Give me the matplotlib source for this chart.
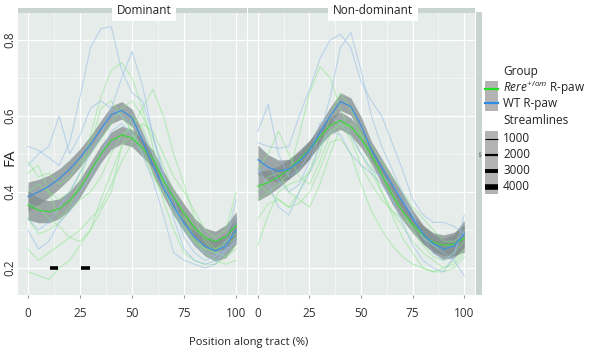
import matplotlib.pyplot as plt
from matplotlib.patches import Rectangle

plt.rcParams['font.family'] = ['Open Sans', 'DejaVu Sans']
plt.rcParams['mathtext.fontset'] = 'custom'
plt.rcParams['mathtext.rm'] = 'Open Sans'
plt.rcParams['mathtext.it'] = 'Open Sans:italic'

# position along tract (%)
pos = [0, 5, 10, 15, 20, 25, 30, 35, 40, 45, 50, 55, 60, 65, 70, 75, 80, 85, 90, 95, 100]

panel_titles = ['Dominant', 'Non-dominant']
group_labels = [r'$\mathit{Rere}^{+/om}$ R-paw', 'WT R-paw']
streamline_levels = ['1000', '2000', '3000', '4000']

# smoothed fits (FA)
dom_wt_fit = [0.388, 0.40, 0.415, 0.435, 0.46, 0.49, 0.525, 0.565, 0.603, 0.615, 0.595, 0.535,
              0.47, 0.412, 0.362, 0.318, 0.282, 0.257, 0.245, 0.258, 0.30]
dom_rere_fit = [0.365, 0.352, 0.348, 0.356, 0.377, 0.41, 0.455, 0.50, 0.535, 0.55, 0.542, 0.515,
                0.488, 0.432, 0.385, 0.345, 0.307, 0.28, 0.27, 0.282, 0.312]
nondom_wt_fit = [0.485, 0.465, 0.455, 0.46, 0.48, 0.51, 0.555, 0.60, 0.638, 0.625, 0.575, 0.51,
                 0.465, 0.42, 0.375, 0.33, 0.29, 0.264, 0.25, 0.258, 0.29]
nondom_rere_fit = [0.415, 0.425, 0.44, 0.46, 0.485, 0.512, 0.545, 0.575, 0.588, 0.572, 0.54, 0.498,
                   0.445, 0.392, 0.35, 0.315, 0.287, 0.268, 0.26, 0.263, 0.278]
fit_se = [0.038, 0.033, 0.029, 0.026, 0.025, 0.024, 0.023, 0.023, 0.023, 0.023, 0.023, 0.023,
          0.023, 0.023, 0.023, 0.023, 0.024, 0.025, 0.027, 0.031, 0.036]

# individual streamline profiles
dom_wt_lines = [
    [0.52, 0.51, 0.49, 0.47, 0.53, 0.65, 0.78, 0.83, 0.835, 0.72, 0.66, 0.64, 0.55, 0.44, 0.33, 0.25, 0.22, 0.21, 0.22, 0.24, 0.28],
    [0.33, 0.30, 0.32, 0.36, 0.40, 0.45, 0.50, 0.55, 0.62, 0.70, 0.77, 0.68, 0.55, 0.45, 0.36, 0.28, 0.24, 0.22, 0.23, 0.27, 0.38],
    [0.47, 0.50, 0.52, 0.60, 0.50, 0.55, 0.62, 0.64, 0.62, 0.60, 0.58, 0.55, 0.50, 0.44, 0.38, 0.30, 0.26, 0.24, 0.23, 0.25, 0.27],
    [0.30, 0.25, 0.27, 0.32, 0.35, 0.40, 0.44, 0.50, 0.56, 0.58, 0.55, 0.50, 0.43, 0.34, 0.24, 0.22, 0.21, 0.20, 0.21, 0.25, 0.33],
]
dom_rere_lines = [
    [0.40, 0.42, 0.40, 0.38, 0.40, 0.45, 0.55, 0.65, 0.72, 0.74, 0.70, 0.62, 0.52, 0.42, 0.34, 0.30, 0.27, 0.25, 0.24, 0.26, 0.30],
    [0.45, 0.47, 0.40, 0.33, 0.36, 0.43, 0.52, 0.62, 0.64, 0.60, 0.56, 0.50, 0.44, 0.40, 0.36, 0.33, 0.30, 0.28, 0.25, 0.26, 0.28],
    [0.33, 0.29, 0.30, 0.32, 0.35, 0.38, 0.40, 0.44, 0.50, 0.55, 0.57, 0.62, 0.67, 0.60, 0.50, 0.42, 0.33, 0.27, 0.24, 0.23, 0.25],
    [0.19, 0.18, 0.17, 0.20, 0.22, 0.26, 0.30, 0.38, 0.45, 0.52, 0.55, 0.52, 0.45, 0.38, 0.30, 0.24, 0.22, 0.21, 0.21, 0.23, 0.26],
    [0.25, 0.22, 0.24, 0.26, 0.28, 0.30, 0.33, 0.36, 0.42, 0.48, 0.53, 0.58, 0.56, 0.50, 0.44, 0.40, 0.35, 0.30, 0.28, 0.30, 0.40],
    [0.37, 0.36, 0.33, 0.31, 0.28, 0.27, 0.30, 0.35, 0.40, 0.52, 0.60, 0.57, 0.50, 0.42, 0.36, 0.31, 0.27, 0.24, 0.22, 0.21, 0.22],
    [0.48, 0.44, 0.45, 0.42, 0.44, 0.48, 0.50, 0.54, 0.58, 0.62, 0.64, 0.60, 0.54, 0.47, 0.40, 0.34, 0.28, 0.25, 0.25, 0.27, 0.29],
]
nondom_wt_lines = [
    [0.53, 0.52, 0.515, 0.52, 0.60, 0.67, 0.75, 0.80, 0.815, 0.78, 0.69, 0.64, 0.60, 0.53, 0.46, 0.38, 0.34, 0.32, 0.32, 0.31, 0.29],
    [0.45, 0.47, 0.43, 0.40, 0.42, 0.48, 0.55, 0.65, 0.78, 0.82, 0.72, 0.60, 0.52, 0.46, 0.40, 0.34, 0.28, 0.24, 0.22, 0.24, 0.30],
    [0.56, 0.63, 0.50, 0.44, 0.46, 0.50, 0.58, 0.60, 0.58, 0.55, 0.50, 0.46, 0.44, 0.42, 0.38, 0.34, 0.28, 0.26, 0.24, 0.22, 0.18],
    [0.46, 0.42, 0.36, 0.34, 0.40, 0.45, 0.52, 0.56, 0.55, 0.50, 0.47, 0.45, 0.42, 0.38, 0.32, 0.26, 0.22, 0.20, 0.19, 0.23, 0.34],
]
nondom_rere_lines = [
    [0.38, 0.40, 0.42, 0.45, 0.55, 0.66, 0.73, 0.70, 0.62, 0.55, 0.50, 0.45, 0.40, 0.35, 0.31, 0.27, 0.24, 0.22, 0.20, 0.21, 0.24],
    [0.26, 0.34, 0.40, 0.42, 0.43, 0.45, 0.50, 0.60, 0.66, 0.62, 0.55, 0.47, 0.40, 0.34, 0.28, 0.24, 0.20, 0.19, 0.19, 0.20, 0.23],
    [0.46, 0.50, 0.56, 0.50, 0.44, 0.42, 0.48, 0.55, 0.58, 0.54, 0.47, 0.42, 0.38, 0.35, 0.33, 0.31, 0.28, 0.26, 0.25, 0.26, 0.28],
    [0.42, 0.40, 0.38, 0.36, 0.40, 0.46, 0.52, 0.56, 0.58, 0.57, 0.55, 0.52, 0.48, 0.44, 0.40, 0.36, 0.33, 0.30, 0.27, 0.27, 0.29],
    [0.33, 0.37, 0.38, 0.36, 0.37, 0.40, 0.46, 0.53, 0.54, 0.50, 0.42, 0.35, 0.30, 0.26, 0.23, 0.21, 0.20, 0.19, 0.20, 0.22, 0.25],
    [0.40, 0.44, 0.45, 0.40, 0.38, 0.36, 0.42, 0.50, 0.57, 0.58, 0.56, 0.50, 0.45, 0.40, 0.35, 0.30, 0.26, 0.23, 0.22, 0.24, 0.27],
]

# significant sections (dominant side)
sig_start = [10.5, 25.3]
sig_end = [14.5, 29.8]
sig_level = 0.2

W, H = 593, 351
GREEN = '#3fd43f'
BLUE = '#3d8fe0'
GREEN_THIN = '#86e686'
BLUE_THIN = '#95bde9'
BAND = '#808c8c'
PANEL_BG = '#e6ecea'
STRIP = '#c9d3d1'


def px_axes(fig, x0, y0, x1, y1):
    return fig.add_axes([x0 / W, 1 - y1 / H, (x1 - x0) / W, (y1 - y0) / H])


fig = plt.figure(figsize=(W / 100, H / 100), dpi=100)

panels = [
    (18, 247, dom_wt_fit, dom_rere_fit, dom_wt_lines, dom_rere_lines),
    (248, 475, nondom_wt_fit, nondom_rere_fit, nondom_wt_lines, nondom_rere_lines),
]

for i, (x0, x1, wt_fit, rere_fit, wt_lines, rere_lines) in enumerate(panels):
    ax = px_axes(fig, x0, 13, x1, 295)
    ax.set_facecolor(PANEL_BG)
    for s in ax.spines.values():
        s.set_visible(False)
    ax.set_xlim(-4.8, 105.2)
    ax.set_ylim(0.129, 0.871)
    ax.set_xticks([0, 25, 50, 75, 100])
    ax.set_xticks([12.5, 37.5, 62.5, 87.5], minor=True)
    ax.set_yticks([0.2, 0.4, 0.6, 0.8])
    ax.set_yticks([0.3, 0.5, 0.7], minor=True)
    ax.grid(True, which='major', color='white', lw=0.9)
    ax.grid(True, which='minor', color='white', lw=0.45, alpha=0.8)
    ax.set_axisbelow(True)
    ax.tick_params(which='minor', length=0)
    ax.tick_params(axis='x', length=2.5, color='#999999', labelsize=8.5, pad=6, labelcolor='#333333')
    if i == 0:
        ax.tick_params(axis='y', length=0, labelsize=8.5, pad=1, labelcolor='#333333')
        ax.set_yticklabels(['0.2', '0.4', '0.6', '0.8'], rotation=90, va='center')
    else:
        ax.tick_params(axis='y', length=0, labelleft=False)

    for line in rere_lines:
        ax.plot(pos, line, color=GREEN_THIN, lw=0.8, alpha=0.5)
    for line in wt_lines:
        ax.plot(pos, line, color=BLUE_THIN, lw=0.8, alpha=0.55)

    for fit in (rere_fit, wt_fit):
        lo = [f - s for f, s in zip(fit, fit_se)]
        hi = [f + s for f, s in zip(fit, fit_se)]
        ax.fill_between(pos, lo, hi, color=BAND, alpha=0.72, lw=0)
    ax.plot(pos, rere_fit, color=GREEN, lw=0.9)
    ax.plot(pos, wt_fit, color=BLUE, lw=0.9)

    if i == 0:
        for a, b in zip(sig_start, sig_end):
            ax.plot([a, b], [sig_level, sig_level], color='black', lw=2.6, solid_capstyle='butt')

    # facet strip with label box
    fig.patches.append(Rectangle((x0 / W, 1 - 13 / H), (x1 - x0) / W, 5 / H,
                                 transform=fig.transFigure, color=STRIP, lw=0))
    cx = (x0 + x1) / 2 + 11.5
    fig.text(cx / W, 1 - 10 / H, panel_titles[i], ha='center', va='center', fontsize=8.5,
             color='#222222', bbox=dict(facecolor='white', edgecolor='none', pad=3.5))

# right-side strip
fig.patches.append(Rectangle((476 / W, 1 - 295 / H), 6 / W, 283 / H,
                             transform=fig.transFigure, color=STRIP, lw=0))
fig.text(479 / W, 1 - 154 / H, 'side', rotation=270, ha='center', va='center',
         fontsize=2.5, color='#333333')

fig.text(10 / W, 1 - 157 / H, 'FA', rotation=90, ha='center', va='center', fontsize=11, color='#222222')
fig.text(249 / W, 1 - 342 / H, 'Position along tract (%)', ha='center', va='center',
         fontsize=8, color='#222222')

# legend
lg = px_axes(fig, 0, 0, W, H)
lg.set_xlim(0, W)
lg.set_ylim(H, 0)
lg.axis('off')
lg.text(503, 72, 'Group', fontsize=8.5, va='center', color='#222222')
lg.add_patch(Rectangle((485, 81), 13, 30, color='#b3b3b3', lw=0))
lg.plot([485, 498], [89, 89], color='#22dd22', lw=1.6)
lg.plot([485, 498], [103, 103], color='#2a8ce8', lw=1.6)
lg.text(503, 88, group_labels[0], fontsize=8.5, va='center', color='#222222')
lg.text(503, 103, group_labels[1], fontsize=8.5, va='center', color='#222222')
lg.text(503, 120, 'Streamlines', fontsize=8.5, va='center', color='#222222')
lg.add_patch(Rectangle((485, 131), 13, 63, color='#b3b3b3', lw=0))
for k, (yy, w) in enumerate(zip([138.5, 155, 171, 187], [0.8, 1.6, 2.8, 4.0])):
    lg.plot([485, 498], [yy, yy], color='black', lw=w, solid_capstyle='butt')
    lg.text(503, yy, streamline_levels[k], fontsize=8.5, va='center', color='#222222')

fig.savefig('out.png', dpi=100)
